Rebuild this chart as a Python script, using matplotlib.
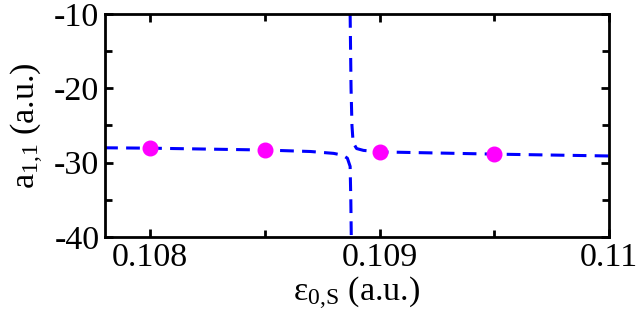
import matplotlib
matplotlib.use('Agg')
import matplotlib.pyplot as plt
from matplotlib.ticker import MultipleLocator

plt.rcParams['font.family'] = ['Liberation Serif']
plt.rcParams['mathtext.fontset'] = 'custom'
plt.rcParams['mathtext.rm'] = 'Liberation Serif'
plt.rcParams['mathtext.it'] = 'Liberation Serif:italic'
plt.rcParams['axes.unicode_minus'] = False
plt.rcParams['font.size'] = 24.5

# lower branch of the avoided crossing (flat, then dives down)
eps_a = [0.10780, 0.10800, 0.10850, 0.10870, 0.10880, 0.10884, 0.10886, 0.108872, 0.108875, 0.108877]
a11_a = [-28.0, -28.05, -28.3, -28.5, -28.75, -29.0, -29.4, -30.5, -35.0, -40.0]

# upper branch (comes down from the top, then flat)
eps_b = [0.108872, 0.108876, 0.10888, 0.108885, 0.10890, 0.10893, 0.10900, 0.10950, 0.11000]
a11_b = [-10.0, -20.0, -25.0, -27.3, -28.1, -28.35, -28.55, -28.85, -29.1]

# computed points
eps_pts = [0.1080, 0.1085, 0.1090, 0.1095]
a11_pts = [-28.05, -28.3, -28.6, -28.85]

fig = plt.figure(figsize=(6.42, 3.21), dpi=100)
ax = fig.add_axes([0.1636, 0.2617, 0.785, 0.6947])

for xs, ys in [(eps_a, a11_a), (eps_b, a11_b)]:
    ax.plot(xs, ys, color='#0000ff', lw=2.2, dashes=(4.5, 2.7))
ax.plot(eps_pts, a11_pts, 'o', color='#ff00ff', markersize=10.5, zorder=3)

ax.set_xlim(0.107804, 0.110)
ax.set_ylim(-40, -10)
ax.xaxis.set_major_locator(MultipleLocator(0.001))
ax.xaxis.set_minor_locator(MultipleLocator(0.0005))
ax.yaxis.set_major_locator(MultipleLocator(10))
ax.yaxis.set_minor_locator(MultipleLocator(5))
ax.set_xticks([0.108, 0.109, 0.110])
ax.set_xticklabels(['0.108', '0.109', '0.11'])

ax.tick_params(which='both', direction='in', top=True, right=True, width=2)
ax.tick_params(which='major', length=6, pad=4)
ax.tick_params(which='minor', length=5)
for s in ax.spines.values():
    s.set_linewidth(2)

ax.set_xlabel('ε$_{0{,}\\mathrm{S}}$ (a.u.)', labelpad=1)
ax.set_ylabel('a$_{1{,}1}$ (a.u.)', labelpad=6)

fig.savefig('out.png', dpi=100)
